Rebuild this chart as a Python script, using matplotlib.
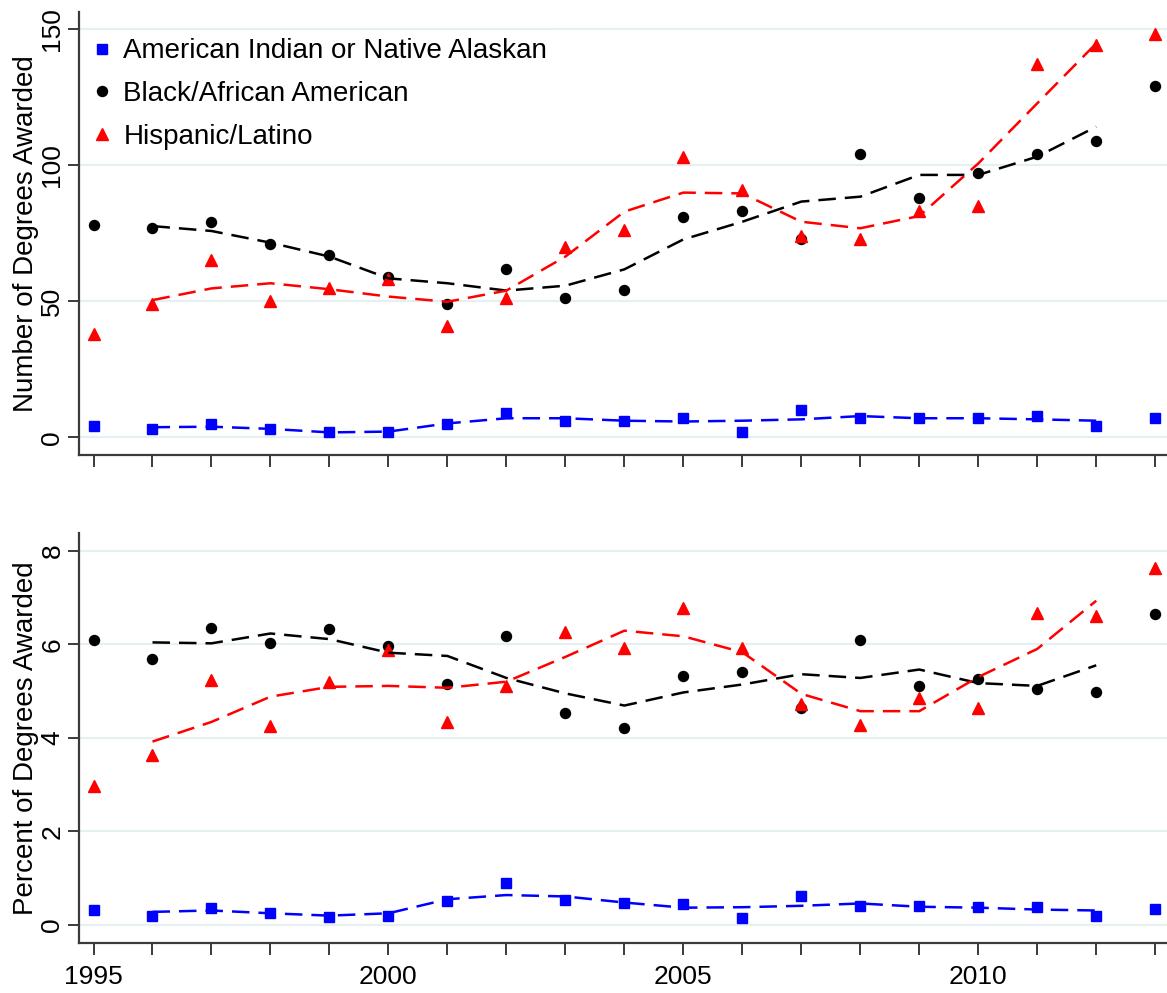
import matplotlib
matplotlib.use("Agg")
import matplotlib.pyplot as plt
from matplotlib.ticker import MultipleLocator

plt.rcParams['font.family'] = ['Liberation Sans', 'DejaVu Sans']

# ---- data -------------------------------------------------------------
years = list(range(1995, 2014))
trend_years = list(range(1996, 2013))

labels = ["American Indian or Native Alaskan",
          "Black/African American",
          "Hispanic/Latino"]

# Number of degrees awarded
count_aian = [4, 3, 5, 3, 2, 2, 5, 9, 6, 6, 7, 2, 10, 7, 7, 7, 8, 4, 7]
count_black = [78, 77, 79, 71, 67, 59, 49, 62, 51, 54, 81, 83, 73, 104, 88, 97, 104, 109, 129]
count_hisp = [38, 49, 65, 50, 55, 58, 41, 51, 70, 76, 103, 91, 74, 73, 83, 85, 137, 144, 148]

# Smoothed counts (1996-2012)
count_aian_trend = [3.7, 3.9, 3.1, 1.8, 2.1, 5.1, 7.0, 7.0, 6.1, 5.8, 6.1, 6.6, 7.8, 7.0, 7.0, 6.6, 6.1]
count_black_trend = [77.6, 75.8, 71.5, 66.4, 58.4, 56.6, 53.9, 55.7, 61.7, 72.7, 79.2, 86.6, 88.4, 96.4, 96.4, 103.1, 114.1]
count_hisp_trend = [50.4, 54.7, 56.6, 54.4, 51.7, 49.8, 53.9, 66.4, 82.9, 89.9, 89.6, 79.2, 76.8, 81.3, 100.6, 122.7, 144.7]

# Percent of degrees awarded
pct_aian = [0.32, 0.20, 0.37, 0.25, 0.18, 0.19, 0.51, 0.89, 0.53, 0.46, 0.44, 0.14, 0.63, 0.41, 0.41, 0.38, 0.38, 0.19, 0.35]
pct_black = [6.09, 5.68, 6.35, 6.03, 6.32, 5.96, 5.16, 6.17, 4.54, 4.20, 5.33, 5.40, 4.64, 6.10, 5.11, 5.25, 5.05, 4.99, 6.64]
pct_hisp = [2.98, 3.63, 5.24, 4.25, 5.20, 5.88, 4.34, 5.11, 6.27, 5.93, 6.77, 5.93, 4.72, 4.28, 4.85, 4.64, 6.66, 6.61, 7.62]

# Smoothed percents (1996-2012)
pct_aian_trend = [0.28, 0.31, 0.25, 0.20, 0.25, 0.55, 0.64, 0.61, 0.48, 0.37, 0.38, 0.41, 0.46, 0.39, 0.37, 0.33, 0.31]
pct_black_trend = [6.04, 6.02, 6.23, 6.11, 5.82, 5.75, 5.28, 4.95, 4.69, 4.97, 5.14, 5.36, 5.28, 5.46, 5.17, 5.11, 5.55]
pct_hisp_trend = [3.92, 4.34, 4.88, 5.09, 5.11, 5.07, 5.20, 5.73, 6.29, 6.17, 5.83, 4.94, 4.57, 4.57, 5.30, 5.90, 6.93]

x_tick_labels = [1995, 2000, 2005, 2010]

# ---- style ------------------------------------------------------------
BLUE, BLACK, RED = "#0000ff", "#000000", "#ff0000"
AXIS_COLOR = "#3a3a3a"
GRID_COLOR = "#e6eff1"
FS = 20

series_style = [
    dict(color=BLUE, marker="s", ms=7.6),
    dict(color=BLACK, marker="o", ms=7.2),
    dict(color=RED, marker="^", ms=8.4),
]

W, H = 1167, 993
fig = plt.figure(figsize=(W / 100, H / 100), dpi=100)
left = 79 / W
ax1 = fig.add_axes([left, 1 - 455 / H, 1 - left, (455 - 12) / H])
ax2 = fig.add_axes([left, 1 - 943 / H, 1 - left, (943 - 533) / H])


def draw_panel(ax, points, trends, ylim, ystep, ylabel):
    for vals, tr, st in zip(points, trends, series_style):
        ax.plot(years, vals, linestyle="none", marker=st["marker"],
                ms=st["ms"], color=st["color"], mec=st["color"], zorder=3)
        ax.plot(trend_years, tr, color=st["color"], lw=1.8,
                linestyle=(0, (7, 3.6)), zorder=4)
    ax.set_xlim(1994.754, 2013.2)
    ax.set_ylim(*ylim)
    ax.yaxis.set_major_locator(MultipleLocator(ystep))
    ax.xaxis.set_major_locator(MultipleLocator(1))
    ax.grid(axis="y", color=GRID_COLOR, lw=1.6, zorder=0)
    ax.set_axisbelow(True)
    for s in ("top", "right"):
        ax.spines[s].set_visible(False)
    for s in ("left", "bottom"):
        ax.spines[s].set_color(AXIS_COLOR)
        ax.spines[s].set_linewidth(1.6)
    ax.tick_params(axis="x", length=8.6, width=1.4, color=AXIS_COLOR,
                   labelsize=19, pad=7)
    ax.tick_params(axis="y", length=8, width=1.4, color=AXIS_COLOR,
                   labelsize=19, pad=2.5)
    ax.set_ylabel(ylabel, fontsize=FS)
    ax.yaxis.set_label_coords(-0.0368, 0.5)


draw_panel(ax1, [count_aian, count_black, count_hisp],
           [count_aian_trend, count_black_trend, count_hisp_trend],
           (-6.5, 156.25), 50, "Number of Degrees Awarded")
draw_panel(ax2, [pct_aian, pct_black, pct_hisp],
           [pct_aian_trend, pct_black_trend, pct_hisp_trend],
           (-0.385, 8.378), 2, "Percent of Degrees Awarded")

ax1.tick_params(axis="x", labelbottom=False)
ax2.set_xticks(years)
ax2.set_xticklabels([str(y) if y in x_tick_labels else "" for y in years])
for lab in ax1.get_yticklabels() + ax2.get_yticklabels():
    lab.set_rotation(90)
    lab.set_va("center")
    lab.set_ha("right")

# legend with marker-only handles
handles = [plt.Line2D([], [], linestyle="none", marker=st["marker"],
                      ms=st["ms"], color=st["color"]) for st in series_style]
leg = ax1.legend(handles, labels, loc="upper left",
                 bbox_to_anchor=(0.0037, 0.959), fontsize=FS,
                 frameon=True, facecolor="white", edgecolor="none",
                 fancybox=False, framealpha=1, handlelength=0.8,
                 handletextpad=0.35, labelspacing=0.6, borderpad=0.3,
                 borderaxespad=0)
leg.set_zorder(5)

fig.savefig("out.png", dpi=100, facecolor="white")
